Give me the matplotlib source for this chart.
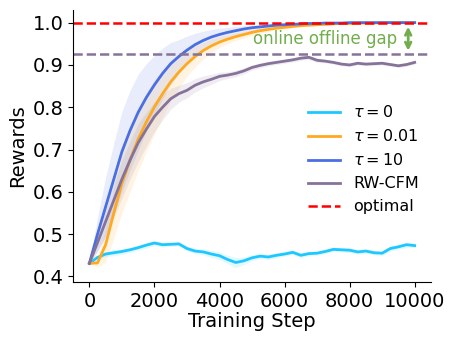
import numpy as np
import matplotlib
matplotlib.use("Agg")
import matplotlib.pyplot as plt

steps = np.arange(0, 10001, 250)

# tau = 0
tau0 = [0.431, 0.445, 0.453, 0.456, 0.459, 0.463, 0.468, 0.474, 0.479, 0.475,
        0.476, 0.477, 0.466, 0.460, 0.458, 0.453, 0.449, 0.440, 0.433, 0.437,
        0.444, 0.448, 0.446, 0.450, 0.453, 0.457, 0.450, 0.454, 0.455, 0.459,
        0.464, 0.463, 0.462, 0.458, 0.460, 0.456, 0.455, 0.466, 0.470, 0.475,
        0.473]
tau0_std = [0.0, 0.004, 0.006, 0.007, 0.007, 0.006, 0.006, 0.007, 0.006, 0.006,
            0.005, 0.005, 0.006, 0.006, 0.007, 0.008, 0.009, 0.010, 0.012, 0.009,
            0.007, 0.006, 0.006, 0.006, 0.005, 0.005, 0.006, 0.005, 0.005, 0.005,
            0.005, 0.005, 0.006, 0.005, 0.005, 0.005, 0.005, 0.006, 0.006, 0.006,
            0.005]

# tau = 0.01
tau001 = [0.431, 0.432, 0.475, 0.550, 0.620, 0.675, 0.725, 0.765, 0.801, 0.832,
          0.860, 0.883, 0.903, 0.920, 0.934, 0.945, 0.954, 0.961, 0.967, 0.972,
          0.977, 0.981, 0.984, 0.987, 0.989, 0.991, 0.993, 0.994, 0.995, 0.996,
          0.997, 0.998, 0.998, 0.999, 0.999, 0.999, 1.000, 1.000, 1.000, 1.000,
          1.000]
tau001_std = [0.0, 0.01, 0.04, 0.06, 0.07, 0.075, 0.075, 0.07, 0.065, 0.055,
              0.045, 0.038, 0.030, 0.025, 0.020, 0.016, 0.013, 0.011, 0.009, 0.008,
              0.007, 0.006, 0.005, 0.004, 0.004, 0.003, 0.003, 0.002, 0.002, 0.002,
              0.001, 0.001, 0.001, 0.001, 0.0, 0.0, 0.0, 0.0, 0.0, 0.0,
              0.0]

# tau = 10
tau10 = [0.431, 0.500, 0.565, 0.630, 0.695, 0.745, 0.788, 0.823, 0.853, 0.880,
         0.903, 0.920, 0.935, 0.948, 0.958, 0.966, 0.972, 0.977, 0.981, 0.985,
         0.988, 0.990, 0.992, 0.994, 0.995, 0.996, 0.997, 0.998, 0.998, 0.999,
         0.999, 0.999, 1.000, 1.000, 1.000, 1.000, 1.000, 1.000, 1.000, 1.000,
         1.000]
tau10_std = [0.0, 0.04, 0.07, 0.085, 0.095, 0.095, 0.09, 0.08, 0.07, 0.06,
             0.05, 0.04, 0.033, 0.027, 0.022, 0.018, 0.015, 0.012, 0.010, 0.008,
             0.006, 0.005, 0.004, 0.003, 0.003, 0.002, 0.002, 0.001, 0.001, 0.001,
             0.0, 0.0, 0.0, 0.0, 0.0, 0.0, 0.0, 0.0, 0.0, 0.0,
             0.0]

# RW-CFM
rwcfm = [0.431, 0.480, 0.530, 0.580, 0.630, 0.675, 0.716, 0.748, 0.778, 0.800,
         0.820, 0.832, 0.840, 0.852, 0.860, 0.866, 0.873, 0.876, 0.880, 0.886,
         0.894, 0.899, 0.903, 0.906, 0.909, 0.912, 0.916, 0.918, 0.911, 0.909,
         0.906, 0.902, 0.900, 0.904, 0.902, 0.903, 0.904, 0.901, 0.898, 0.901,
         0.906]
rwcfm_std = [0.0, 0.02, 0.035, 0.04, 0.045, 0.045, 0.045, 0.04, 0.035, 0.03,
             0.025, 0.02, 0.018, 0.016, 0.014, 0.012, 0.010, 0.008, 0.008, 0.007,
             0.006, 0.006, 0.005, 0.005, 0.005, 0.005, 0.005, 0.005, 0.005, 0.004,
             0.004, 0.004, 0.004, 0.004, 0.004, 0.004, 0.004, 0.004, 0.004, 0.004,
             0.004]

optimal = 1.0
offline_best = 0.925

series = [
    (tau0, tau0_std, "#1ec8ff", r"$\tau=0$"),
    (tau001, tau001_std, "#ffa91f", r"$\tau=0.01$"),
    (tau10, tau10_std, "#4a6fe3", r"$\tau=10$"),
    (rwcfm, rwcfm_std, "#86739a", "RW-CFM"),
]

fig = plt.figure(figsize=(4.57, 3.43), dpi=100)
ax = fig.add_axes([0.16, 0.178, 0.783, 0.793])

for mean, std, color, label in series:
    mean = np.array(mean)
    std = np.array(std)
    lo = mean - std
    hi = np.minimum(mean + std, 1.0)
    ax.fill_between(steps, lo, hi, color=color, alpha=0.12, lw=0)
    ax.plot(steps, mean, color=color, lw=2, label=label)

ax.axhline(optimal, color="red", ls="--", lw=1.8, label="optimal")
ax.axhline(offline_best, color="#86739a", ls="--", lw=1.8)

green = "#72ad4c"
ax.annotate("", xy=(9800, 0.997), xytext=(9800, 0.927),
            arrowprops=dict(arrowstyle="<->", color=green, lw=2))
ax.text(9450, 0.961, "online offline gap", color=green, fontsize=12,
        ha="right", va="center")

ax.set_xlim(-500, 10500)
ax.set_ylim(0.387, 1.03)
ax.set_xticks([0, 2000, 4000, 6000, 8000, 10000])
ax.set_yticks([0.4, 0.5, 0.6, 0.7, 0.8, 0.9, 1.0])
ax.tick_params(labelsize=14)
ax.set_xlabel("Training Step", fontsize=14, labelpad=1)
ax.set_ylabel("Rewards", fontsize=14)
ax.spines["top"].set_visible(False)
ax.spines["right"].set_visible(False)

ax.legend(loc="center left", bbox_to_anchor=(0.643, 0.536),
          bbox_transform=fig.transFigure, frameon=False, fontsize=11.5)

fig.savefig("out.png", dpi=100)
